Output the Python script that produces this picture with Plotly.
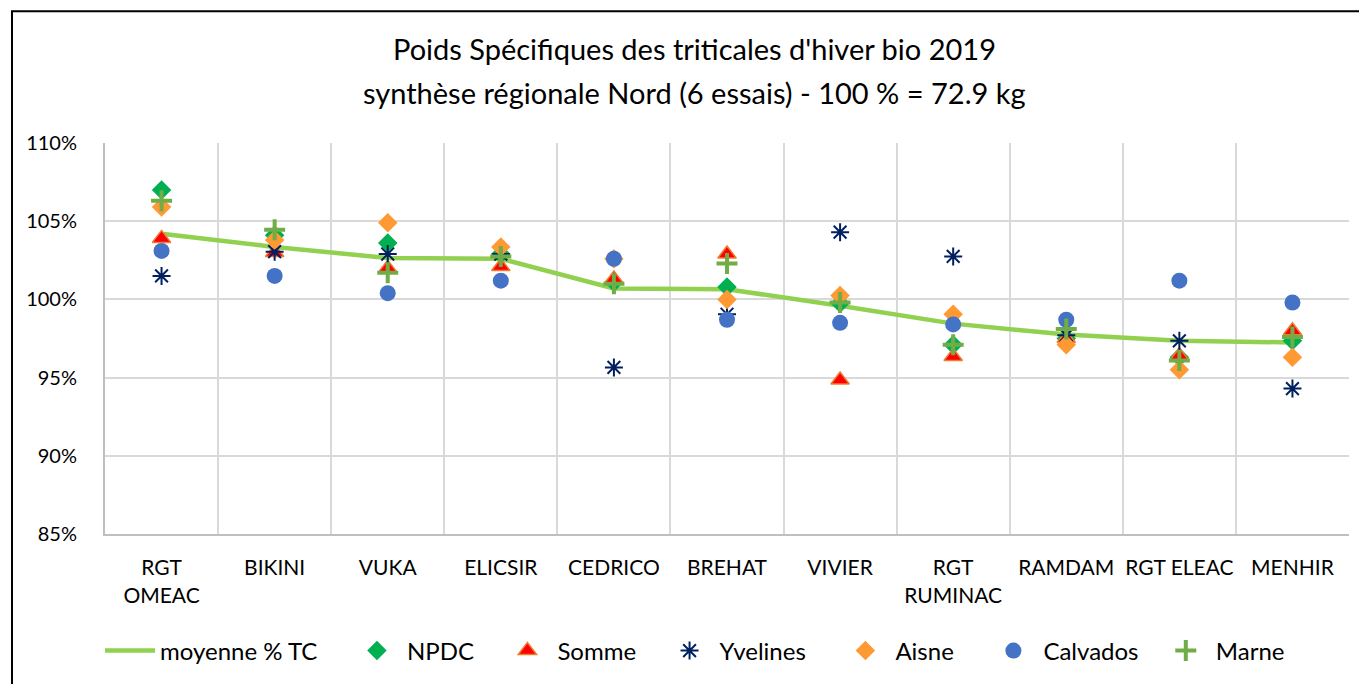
import plotly.graph_objects as go

categories = ["RGT<br>OMEAC", "BIKINI", "VUKA", "ELICSIR", "CEDRICO", "BREHAT",
              "VIVIER", "RGT<br>RUMINAC", "RAMDAM", "RGT ELEAC", "MENHIR"]
moyenne = [104.2, 103.35, 102.65, 102.6, 100.7, 100.65, 99.6, 98.45, 97.75, 97.35, 97.25]
npdc = [107.0, 104.1, 103.6, 102.9, 101.1, 100.8, 99.75, 97.1, 97.5, 96.3, 97.35]
somme = [103.9, 103.0, 102.0, 102.1, 101.3, 102.9, 94.85, 96.35, 97.5, 96.4, 98.0]
yvelines = [101.5, 103.05, 102.9, 102.9, 95.65, 99.05, 104.3, 102.75, 97.7, 97.35, 94.3]
aisne = [105.9, 103.8, 104.9, 103.35, 102.6, 100.0, 100.25, 99.05, 97.1, 95.5, 96.3]
calvados = [103.1, 101.5, 100.4, 101.2, 102.6, 98.7, 98.5, 98.4, 98.7, 101.2, 99.8]
marne = [106.3, 104.45, 101.7, 102.75, 101.0, 102.3, 99.8, 97.1, 98.1, 96.1, 97.6]
y_ticks = [85, 90, 95, 100, 105, 110]

title_1 = "Poids Spécifiques des triticales d'hiver bio 2019"
title_2 = "synthèse régionale Nord (6 essais) - 100 % = 72.9 kg"

FONT = "Lato"
xs = list(range(len(categories)))
NB = "\u00a0"  # legend spacing

fig = go.Figure()
fig.add_trace(go.Scatter(x=xs, y=moyenne, mode="lines", name="moyenne % TC" + NB * 4,
                         line=dict(color="#92d050", width=4.5)))
fig.add_trace(go.Scatter(x=xs, y=npdc, mode="markers", name="NPDC" + NB * 3,
                         marker=dict(symbol="diamond", size=15, color="#00b050",
                                     line=dict(width=0))))
fig.add_trace(go.Scatter(x=xs, y=somme, mode="markers", name="Somme" + NB * 3,
                         marker=dict(symbol="triangle-up", size=16, color="#ff0000",
                                     line=dict(width=1.5, color="#ed7d31"))))
fig.add_trace(go.Scatter(x=xs, y=yvelines, mode="markers", name="Yvelines" + NB * 4,
                         marker=dict(symbol="asterisk-open", size=15, color="#002060",
                                     line=dict(width=2, color="#002060"))))
fig.add_trace(go.Scatter(x=xs, y=aisne, mode="markers", name="Aisne" + NB * 4,
                         marker=dict(symbol="diamond", size=15, color="#ff9933",
                                     line=dict(width=0))))
fig.add_trace(go.Scatter(x=xs, y=calvados, mode="markers", name="Calvados" + NB * 2,
                         marker=dict(symbol="circle", size=16, color="#4472c4",
                                     line=dict(width=0))))
fig.add_trace(go.Scatter(x=xs, y=marne, mode="markers", name="Marne",
                         marker=dict(symbol="cross-thin-open", size=15, color="#70ad47",
                                     line=dict(width=4, color="#70ad47"))))

OFF = 8  # page body margin
W, H = 1367 - OFF, 684 - OFF
L, R, T, B = 105 - OFF, 1367 - 1349, 143 - OFF, 684 - 535
pw, ph = W - L - R, H - T - B

def px_x(p):
    return (p - OFF - L) / pw

def px_y(p):
    return (H - B - (p - OFF)) / ph

fig.update_layout(
    width=W, height=H,
    margin=dict(l=L, r=R, t=T, b=B),
    paper_bgcolor="white", plot_bgcolor="white",
    font=dict(family=FONT, size=21, color="#000000"),
    showlegend=True,
    legend=dict(orientation="h", x=px_x(100), xanchor="left", y=px_y(651), yanchor="middle",
                font=dict(family=FONT, size=24, color="#000000"),
                itemwidth=50, tracegroupgap=0, bgcolor="rgba(0,0,0,0)"),
    xaxis=dict(range=[-0.5, len(categories) - 0.5], tickmode="array", tickvals=xs,
               ticktext=categories, showgrid=False, zeroline=False,
               showline=True, linecolor="#bfbfbf", linewidth=2,
               ticks="", ticklabelstandoff=14,
               tickfont=dict(family=FONT, size=21, color="#000000"),
               minor=dict(tick0=-0.5, dtick=1, showgrid=True, gridcolor="#d9d9d9",
                          gridwidth=1.5, ticks="")),
    yaxis=dict(range=[85, 110], tickmode="array", tickvals=y_ticks,
               ticktext=[f"{v}%" for v in y_ticks],
               showgrid=True, gridcolor="#d9d9d9", gridwidth=1.5, zeroline=False,
               showline=True, linecolor="#bfbfbf", linewidth=2,
               ticks="", ticklabelstandoff=22,
               tickfont=dict(family=FONT, size=20, color="#000000")),
    annotations=[
        dict(text=title_1, xref="paper", yref="paper", x=px_x(694), y=px_y(48),
             xanchor="center", yanchor="middle", showarrow=False,
             font=dict(family=FONT, size=29, color="#000000")),
        dict(text=title_2, xref="paper", yref="paper", x=px_x(694), y=px_y(92),
             xanchor="center", yanchor="middle", showarrow=False,
             font=dict(family=FONT, size=29, color="#000000")),
    ],
    shapes=[dict(type="rect", xref="paper", yref="paper",
                 x0=px_x(12), x1=px_x(1385), y0=px_y(700), y1=px_y(11),
                 line=dict(color="#000000", width=2), layer="below")],
)

fig.write_html("out.html")
